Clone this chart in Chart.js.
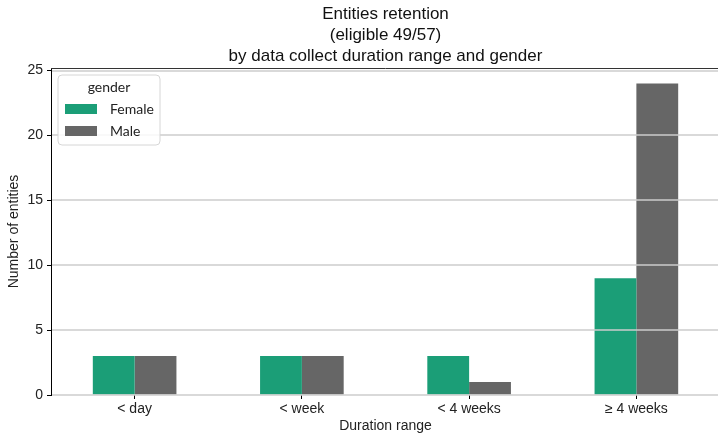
<!DOCTYPE html>
<html>
<head>
<meta charset="utf-8">
<script src="https://cdn.jsdelivr.net/npm/chart.js@4.4.0/dist/chart.umd.min.js"></script>
<style>
  html, body { margin: 0; padding: 0; background: #ffffff; overflow: hidden; }
  #wrap { width: 718px; height: 436px; overflow: hidden; }
</style>
</head>
<body>
<div id="wrap"><canvas id="c" width="720" height="436"></canvas></div>
<script>
// Duration buckets and entity counts per gender
const categories = ['< day', '< week', '< 4 weeks', '\u2265 4 weeks'];
const female = [3, 3, 3, 9];
const male = [3, 3, 1, 24];
const yTicks = [0, 5, 10, 15, 20, 25];
const titleLines = ['Entities retention', '(eligible 49/57)', 'by data collect duration range and gender'];
const legendTitle = 'gender';

const FONT = "'Liberation Sans', Arial, sans-serif";
const LEGEND_FONT = "Lato, 'Open Sans', sans-serif";

// Horizontal grid lines drawn on top of the bars, plus the top frame line
const gridOverBars = {
  id: 'gridOverBars',
  afterDatasetsDraw(chart) {
    const { ctx, chartArea: a, scales: { y } } = chart;
    ctx.save();
    ctx.strokeStyle = '#cccccc';
    ctx.lineWidth = 1.5;
    y.ticks.forEach(t => {
      const py = Math.round(y.getPixelForValue(t.value));
      ctx.beginPath();
      ctx.moveTo(a.left + 1, py);
      ctx.lineTo(a.right, py);
      ctx.stroke();
    });
    ctx.strokeStyle = '#333333';
    ctx.lineWidth = 1;
    ctx.beginPath();
    ctx.moveTo(a.left, Math.round(a.top) + 0.5);
    ctx.lineTo(a.right, Math.round(a.top) + 0.5);
    ctx.stroke();
    ctx.restore();
  }
};

// Framed legend with a title, placed in the upper left of the plot
const framedLegend = {
  id: 'framedLegend',
  afterDraw(chart) {
    const { ctx, chartArea: a } = chart;
    const x = a.left + 7, y = a.top + 7, w = 102, h = 70, r = 4;
    ctx.save();
    ctx.beginPath();
    ctx.moveTo(x + r, y);
    ctx.arcTo(x + w, y, x + w, y + h, r);
    ctx.arcTo(x + w, y + h, x, y + h, r);
    ctx.arcTo(x, y + h, x, y, r);
    ctx.arcTo(x, y, x + w, y, r);
    ctx.closePath();
    ctx.fillStyle = 'rgba(255,255,255,0.85)';
    ctx.fill();
    ctx.strokeStyle = '#d6d6d6';
    ctx.lineWidth = 1;
    ctx.stroke();

    ctx.fillStyle = '#222222';
    ctx.font = '14px ' + LEGEND_FONT;
    ctx.textBaseline = 'middle';
    ctx.textAlign = 'center';
    ctx.fillText(legendTitle, x + 51, y + 12);

    ctx.textAlign = 'left';
    chart.data.datasets.forEach((ds, i) => {
      const cy = y + 34 + i * 22;
      ctx.fillStyle = ds.backgroundColor;
      ctx.fillRect(x + 7, cy - 5, 32, 10);
      ctx.fillStyle = '#222222';
      ctx.fillText(ds.label, x + 52, cy);
    });
    ctx.restore();
  }
};

new Chart(document.getElementById('c'), {
  type: 'bar',
  data: {
    labels: categories,
    datasets: [
      { label: 'Female', data: female, backgroundColor: '#1b9e77', borderWidth: 0 },
      { label: 'Male', data: male, backgroundColor: '#666666', borderWidth: 0 }
    ]
  },
  options: {
    responsive: false,
    animation: false,
    devicePixelRatio: 1,
    categoryPercentage: 0.5,
    barPercentage: 1.0,
    layout: { padding: { left: 0, right: 0, top: 0, bottom: 0 } },
    plugins: {
      legend: { display: false },
      tooltip: { enabled: false },
      title: {
        display: true,
        text: titleLines,
        fullSize: false,
        color: '#111111',
        font: { family: FONT, size: 17, weight: 'normal', lineHeight: 21 / 17 },
        padding: { top: 4, bottom: 1 }
      }
    },
    scales: {
      x: {
        offset: true,
        border: { display: false },
        grid: { display: true, offset: false, drawOnChartArea: false, drawTicks: true, tickLength: 4, tickColor: '#000000', color: 'rgba(0,0,0,0)' },
        ticks: { color: '#222222', font: { family: FONT, size: 14 }, padding: 2, maxRotation: 0 },
        title: { display: true, text: 'Duration range', color: '#222222', font: { family: FONT, size: 14 }, padding: { top: 0, bottom: 1 } },
        afterFit(scale) { scale.height = 41; }
      },
      y: {
        min: 0,
        max: 25.2,
        border: { display: true, color: '#000000', width: 1 },
        grid: { display: true, drawOnChartArea: false, drawTicks: true, tickLength: 4, tickColor: '#000000', color: 'rgba(0,0,0,0)' },
        ticks: { color: '#222222', font: { family: FONT, size: 14 }, padding: 4 },
        afterBuildTicks(scale) { scale.ticks = yTicks.map(v => ({ value: v })); },
        title: { display: true, text: 'Number of entities', color: '#222222', font: { family: FONT, size: 14 }, padding: { top: 6, bottom: 0 } },
        afterFit(scale) { scale.width = 51; }
      }
    }
  },
  plugins: [gridOverBars, framedLegend]
});
</script>
</body>
</html>
